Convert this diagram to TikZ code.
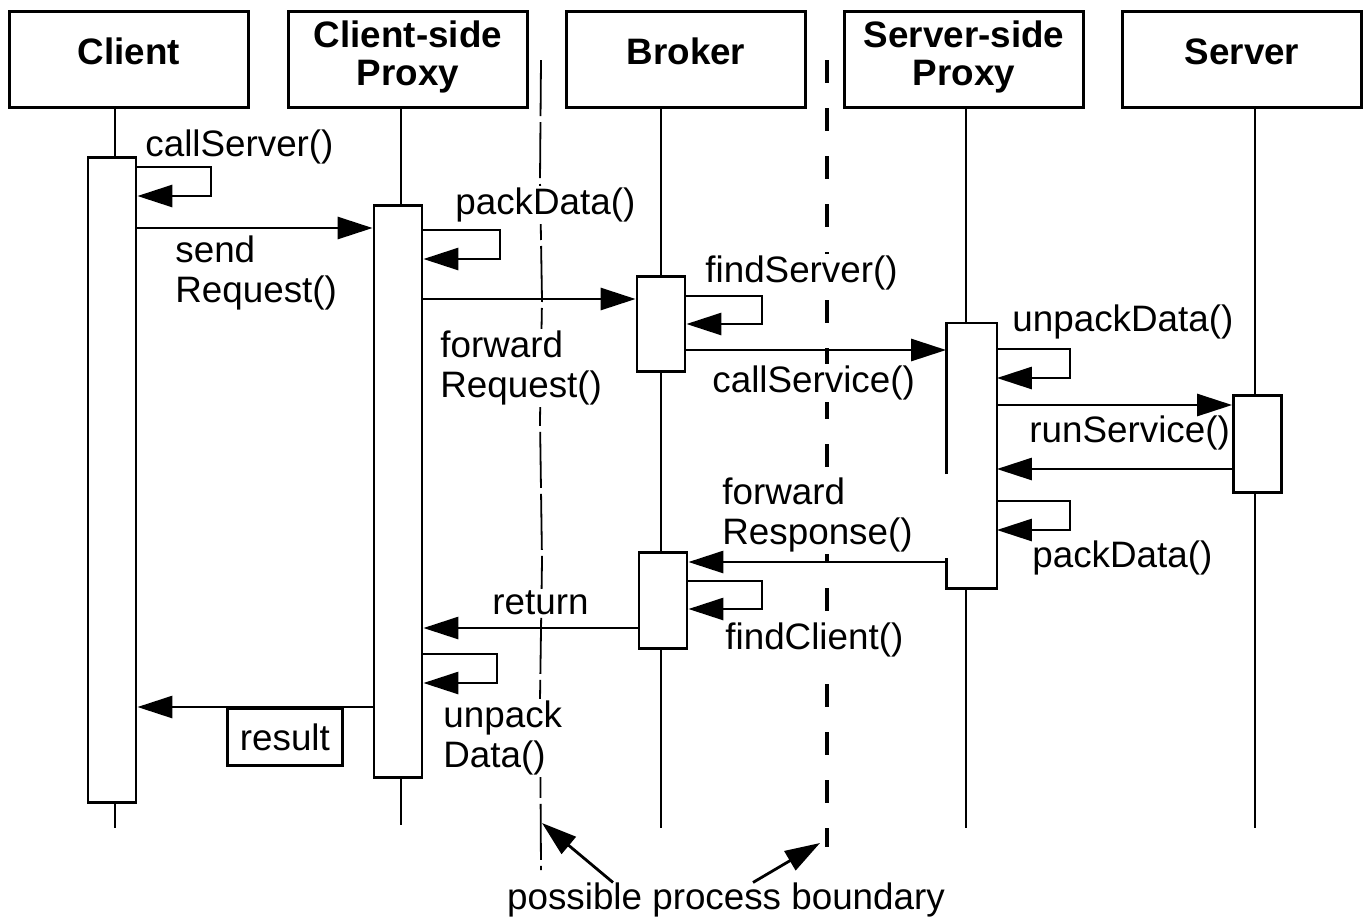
\documentclass[tikz,border=0pt]{standalone}
\usepackage{fontspec}
\setmainfont{Liberation Sans}
\usetikzlibrary{arrows.meta}

\begin{document}
\begin{tikzpicture}[x=0.5pt,y=-0.5pt,
  font=\fontsize{18.4}{20}\selectfont,
  head/.style={draw,line width=1.5pt,minimum width=119.5pt,minimum height=48pt,text depth=8pt,
    anchor=north west,align=center,font=\fontsize{18.4}{19}\selectfont\bfseries},
  act/.style={draw,fill=white,line width=1.4pt,minimum width=24pt,inner sep=0pt,anchor=north},
  life/.style={line width=1.1pt},
  msg/.style={line width=1.4pt,-{Triangle[length=17.5pt,width=11pt]}},
  lbl/.style={fill=white,inner sep=1pt,anchor=west,align=left}]

\useasboundingbox (0,0) rectangle (1364,923);

\def\lifeEnd{828}
\def\leftBndX{541}
\def\rightBndX{827}

% headers
\node[head] (client) at (8,10) {Client};
\node[head,text depth=6pt] (cproxy) at (287,10) {Client-side\\Proxy};
\node[head] (broker) at (565,10) {Broker};
\node[head,text depth=6pt] (sproxy) at (843,10) {Server-side\\Proxy};
\node[head] (server) at (1121,10) {Server};

% lifelines
\draw[life] (client.south -| 115,0) -- (115,\lifeEnd);
\draw[life] (cproxy.south -| 401,0) -- (401,825);
\draw[life] (broker.south -| 661,0) -- (661,\lifeEnd);
\draw[life] (sproxy.south -| 966,0) -- (966,\lifeEnd);
\draw[life] (server.south -| 1255,0) -- (1255,\lifeEnd);

% process boundaries
\draw[line width=0.9pt,dash pattern=on 28pt off 3pt] (\leftBndX,60) -- (\leftBndX-1,180) -- (\leftBndX+1,300)
  -- (\leftBndX-1,420) -- (\leftBndX+1,560) -- (\leftBndX-1,700) -- (\leftBndX,870);
\draw[line width=2pt,dash pattern=on 11.5pt off 12.5pt] (\rightBndX,60) -- (\rightBndX,847);

% activations
\node[act,minimum height=322.5pt] (clientAct) at (112,156) {};
\node[act,minimum height=286pt] (cproxyAct) at (398,204) {};
\node[act,minimum height=47.5pt] (brokerActA) at (661,275) {};
\node[act,minimum height=48pt] (brokerActB) at (663,551) {};
\node[act,draw=none,minimum height=131.5pt] (sproxyAct) at (971.5,323) {};
\draw[line width=1.4pt] (sproxyAct.west |- 0,474) -- (sproxyAct.north west) -- (sproxyAct.north east)
  -- (sproxyAct.south east) -- (sproxyAct.south west) -- (sproxyAct.west |- 0,558);
\node[act,minimum height=48.5pt] (serverAct) at (1257.5,394) {};

% labels
\node[lbl] (callServerL) at (143,147) {callServer()};
\node[lbl] (sendReqL) at (173,273) {send\\Request()};
\node[lbl] (packL) at (453,205) {packData()};
\node[lbl] (fwdReqL) at (438,368) {forward\\Request()};
\node[lbl] (findServerL) at (703,273) {findServer()};
\node[lbl] (callServiceL) at (710,383) {callService()};
\node[lbl] (unpackL) at (1010,322) {unpackData()};
\node[lbl] (runServiceL) at (1027,433) {runService()};
\node[lbl] (fwdRespL) at (720,515) {forward\\Response()};
\node[lbl] (packSL) at (1030,558) {packData()};
\node[lbl] (returnL) at (490,603) {return};
\node[lbl] (findClientL) at (723,640) {findClient()};
\node[lbl] (unpackCL) at (441,738) {unpack\\Data()};
\node[draw,line width=1.4pt,anchor=north west,minimum width=57.5pt,minimum height=28.5pt,inner sep=0pt]
  (resultL) at (226,707) {result};
\node[inner sep=0pt] (boundaryL) at (726,900) {possible process boundary};

% messages
\draw[msg] (clientAct.east |- 0,167) -- (211,167) -- (211,196) -- (clientAct.east |- 0,196);
\draw[msg] (clientAct.east |- 0,228) -- (cproxyAct.west |- 0,228);
\draw[msg] (cproxyAct.east |- 0,230) -- (500,230) -- (500,259) -- (cproxyAct.east |- 0,259);
\draw[msg] (cproxyAct.east |- 0,299) -- (brokerActA.west |- 0,299);
\draw[msg] (brokerActA.east |- 0,296) -- (762,296) -- (762,324) -- (brokerActA.east |- 0,324);
\draw[msg] (brokerActA.east |- 0,350) -- (sproxyAct.west |- 0,350);
\draw[msg] (sproxyAct.east |- 0,349) -- (1070,349) -- (1070,378) -- (sproxyAct.east |- 0,378);
\draw[msg] (sproxyAct.east |- 0,405) -- (serverAct.west |- 0,405);
\draw[msg] (serverAct.west |- 0,469) -- (sproxyAct.east |- 0,469);
\draw[msg] (sproxyAct.east |- 0,501) -- (1070,501) -- (1070,530) -- (sproxyAct.east |- 0,530);
\draw[msg] (sproxyAct.west |- 0,562) -- (brokerActB.east |- 0,562);
\draw[msg] (brokerActB.east |- 0,581) -- (762,581) -- (762,609) -- (brokerActB.east |- 0,609);
\draw[msg] (brokerActB.west |- 0,628) -- (cproxyAct.east |- 0,628);
\draw[msg] (cproxyAct.east |- 0,654) -- (497,654) -- (497,683) -- (cproxyAct.east |- 0,683);
\draw[msg] (cproxyAct.west |- 0,707) -- (clientAct.east |- 0,707);

% pointers to the boundaries
\coordinate (leftTip) at (542,823);
\coordinate (rightTip) at (820,843);
\draw[msg] (boundaryL.north -| 613,0) -- (leftTip);
\draw[msg] (boundaryL.north -| 753,0) -- (rightTip);

\end{tikzpicture}
\end{document}
